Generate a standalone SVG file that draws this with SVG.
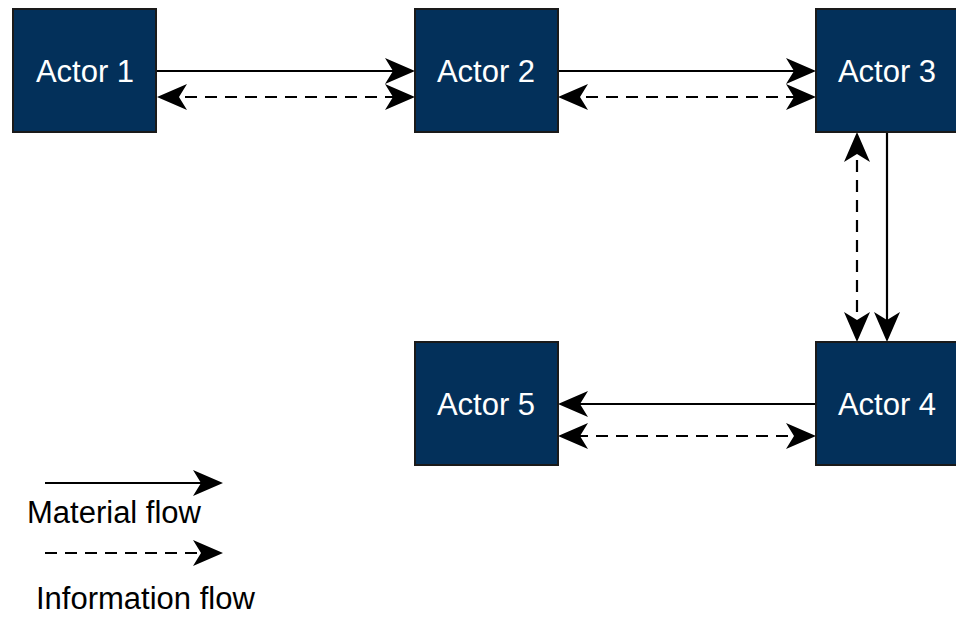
<svg xmlns="http://www.w3.org/2000/svg" width="956" height="617" viewBox="0 0 956 617">
<style>
.box{fill:#03305A;stroke:#1a1a1a;stroke-width:2}
.lbl{fill:#ffffff;font-family:"Liberation Sans",Arial,sans-serif;font-size:31px;text-anchor:middle}
.leg{fill:#000000;font-family:"Liberation Sans",Arial,sans-serif;font-size:31px}
.solid{fill:none;stroke:#000;stroke-width:2.2;marker-end:url(#ah)}
.dash{fill:none;stroke:#000;stroke-width:2.2;stroke-dasharray:12 8;marker-end:url(#ah)}
.both{marker-start:url(#ah)}
</style>
<defs>
<marker id="ah" viewBox="0 0 30 26" markerUnits="userSpaceOnUse" markerWidth="30" markerHeight="26" refX="22" refY="13" orient="auto-start-reverse">
<path d="M0,0 L30,13 L0,26 L8,13 Z" fill="#000"/>
</marker>
</defs>
<rect width="956" height="617" fill="#ffffff"/>
<g id="connectors">
<line class="solid" x1="157" y1="71" x2="407" y2="71"/>
<line class="dash both" x1="165" y1="97" x2="407" y2="97"/>
<line class="solid" x1="558" y1="71" x2="808" y2="71"/>
<line class="dash both" x1="566" y1="97" x2="808" y2="97"/>
<line class="solid" x1="887" y1="132" x2="887" y2="334"/>
<line class="dash both" x1="857" y1="140" x2="857" y2="334"/>
<line class="solid" x1="816" y1="404" x2="566" y2="404"/>
<line class="dash both" x1="808" y1="436" x2="566" y2="436"/>
</g>
<g id="actor1"><rect class="box" x="13" y="9" width="143" height="123"/><text class="lbl" x="85" y="82">Actor 1</text></g>
<g id="actor2"><rect class="box" x="415" y="9" width="143" height="123"/><text class="lbl" x="486" y="82">Actor 2</text></g>
<g id="actor3"><rect class="box" x="816" y="9" width="143" height="123"/><text class="lbl" x="887" y="82">Actor 3</text></g>
<g id="actor4"><rect class="box" x="816" y="342" width="143" height="123"/><text class="lbl" x="887" y="415">Actor 4</text></g>
<g id="actor5"><rect class="box" x="415" y="342" width="143" height="123"/><text class="lbl" x="486" y="415">Actor 5</text></g>
<g id="legend">
<line class="solid" x1="45" y1="483" x2="215" y2="483"/>
<text class="leg" x="27" y="523">Material flow</text>
<line class="dash" x1="45" y1="553" x2="215" y2="553"/>
<text class="leg" x="36" y="609">Information flow</text>
</g>
</svg>
